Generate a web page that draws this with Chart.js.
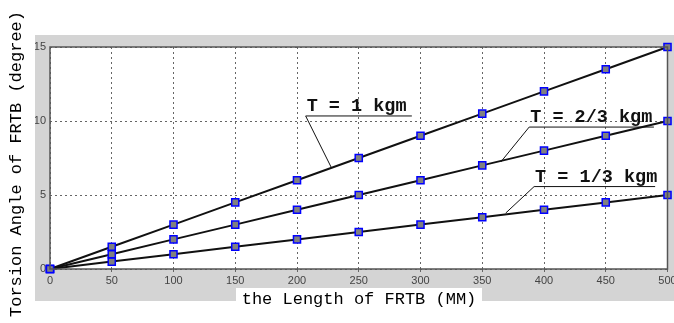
<!DOCTYPE html>
<html>
<head>
<meta charset="utf-8">
<script src="https://cdn.jsdelivr.net/npm/chart.js@4"></script>
<style>
  html, body { margin: 0; padding: 0; background: #fff; }
  #wrap { width: 674px; height: 323px; }
</style>
</head>
<body>
<div id="wrap"><canvas id="chart" width="674" height="323"></canvas></div>
<script>
// lengths (MM)
const lengths = [0, 50, 100, 150, 200, 250, 300, 350, 400, 450, 500];

// torsion angle (degree) for each torque
const angleT1 = [0, 1.5, 3, 4.5, 6, 7.5, 9, 10.5, 12, 13.5, 15];
const angleT23 = [0, 1, 2, 3, 4, 5, 6, 7, 8, 9, 10];
const angleT13 = [0, 0.5, 1, 1.5, 2, 2.5, 3, 3.5, 4, 4.5, 5];

const yTicks = [0, 5, 10, 15];

// callout labels, in data units: underline from x0 to x1 at y, leader to (lx, ly)
const callouts = [
    { text: 'T = 1 kgm', x0: 207, x1: 293, y: 10.34, lx: 228, ly: 6.82 },
    { text: 'T = 2/3 kgm', x0: 388, x1: 489, y: 9.59, lx: 365, ly: 7.23 },
    { text: 'T = 1/3 kgm', x0: 392, x1: 490, y: 5.57, lx: 369, ly: 3.78 },
];

const pts = arr => arr.map((v, i) => ({ x: lengths[i], y: v }));

const lineStyle = {
    borderColor: '#111',
    borderWidth: 2,
    pointStyle: 'rect',
    pointRadius: 5,
    pointBackgroundColor: '#808080',
    pointBorderColor: '#0000ff',
    pointBorderWidth: 1.5,
    fill: false,
    clip: false,
};

// gray figure background, frame, axis titles and callouts
const decor = {
    id: 'decor',
    beforeDraw(chart) {
        const c = chart.ctx, a = chart.chartArea;
        c.save();
        c.fillStyle = '#d4d4d4';
        c.fillRect(35, 35, 639, 266);
        c.fillStyle = '#fff';
        c.fillRect(a.left, a.top, a.right - a.left, a.bottom - a.top);
        c.restore();
    },
    afterDatasetsDraw(chart) {
        const c = chart.ctx, a = chart.chartArea;
        const xs = chart.scales.x, ys = chart.scales.y;
        c.save();
        c.strokeStyle = '#555';
        c.lineWidth = 1.5;
        c.strokeRect(a.left, a.top, a.right - a.left, a.bottom - a.top);

        // callouts
        c.strokeStyle = '#111';
        c.lineWidth = 1;
        c.fillStyle = '#111';
        c.font = 'bold 18.5px "Liberation Mono", monospace';
        c.textBaseline = 'alphabetic';
        callouts.forEach(o => {
            const x0 = xs.getPixelForValue(o.x0), x1 = xs.getPixelForValue(o.x1);
            const y = ys.getPixelForValue(o.y);
            c.beginPath();
            c.moveTo(x0, y); c.lineTo(x1, y);
            c.moveTo(x0, y); c.lineTo(xs.getPixelForValue(o.lx), ys.getPixelForValue(o.ly));
            c.stroke();
            c.fillText(o.text, x0 + 1, y - 5);
        });

        // x title in white box
        c.fillStyle = '#fff';
        c.fillRect(236, 288, 246, 23);
        c.fillStyle = '#000';
        c.font = '17px "Liberation Mono", monospace';
        c.textAlign = 'center';
        c.textBaseline = 'middle';
        c.fillText('the Length of FRTB (MM)', 359, 299);

        // y title
        c.translate(16, 164);
        c.rotate(-Math.PI / 2);
        c.fillText('Torsion Angle of FRTB (degree)', 0, 0);
        c.restore();
    }
};

new Chart(document.getElementById('chart'), {
    type: 'line',
    data: {
        datasets: [
            { label: 'T = 1 kgm', data: pts(angleT1), ...lineStyle },
            { label: 'T = 2/3 kgm', data: pts(angleT23), ...lineStyle },
            { label: 'T = 1/3 kgm', data: pts(angleT13), ...lineStyle },
        ]
    },
    options: {
        responsive: false,
        animation: false,
        layout: { padding: { left: 35, top: 47, right: 1, bottom: 0 } },
        plugins: { legend: { display: false }, tooltip: { enabled: false } },
        scales: {
            x: {
                type: 'linear',
                min: 0, max: 500,
                afterFit(s) { s.height = 54; s.paddingLeft = 0; s.paddingRight = 0; },
                afterBuildTicks(s) { s.ticks = lengths.map(v => ({ value: v })); },
                grid: { color: '#666', lineWidth: 1, tickLength: 3, drawTicks: true },
                border: { display: false, dash: [2, 3] },
                ticks: {
                    color: '#444', padding: 2, maxRotation: 0,
                    font: { family: 'Arial, "Liberation Sans"', size: 11 }
                },
            },
            y: {
                min: 0, max: 15,
                afterFit(s) { s.width = 15; s.paddingTop = 0; s.paddingBottom = 0; },
                afterBuildTicks(s) { s.ticks = yTicks.map(v => ({ value: v })); },
                grid: { color: '#666', lineWidth: 1, drawTicks: false },
                border: { display: false, dash: [2, 3] },
                ticks: {
                    color: '#444', padding: 4,
                    font: { family: 'Arial, "Liberation Sans"', size: 11 }
                },
            },
        },
    },
    plugins: [decor],
});
</script>
</body>
</html>
